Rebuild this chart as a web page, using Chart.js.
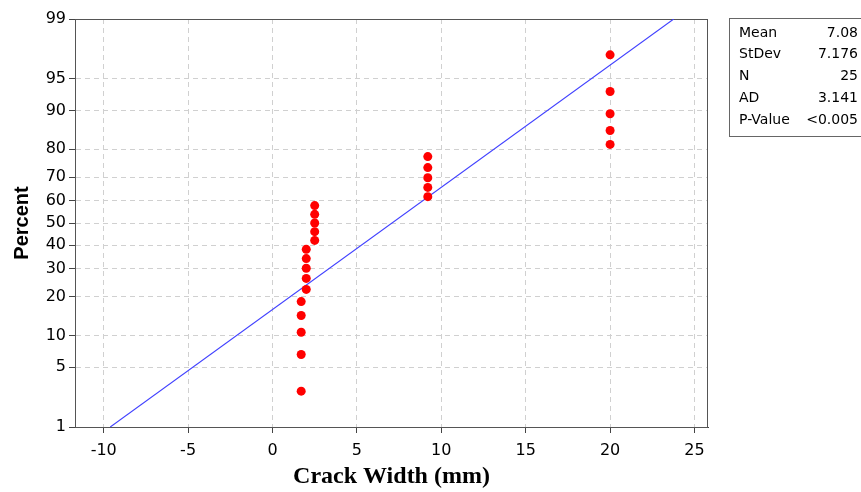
<!DOCTYPE html>
<html>
<head>
<meta charset="utf-8">
<script src="https://cdn.jsdelivr.net/npm/chart.js@4/dist/chart.umd.min.js"></script>
<style>
  html, body { margin: 0; padding: 0; background: #fff; }
  #wrap { width: 861px; height: 492px; }
</style>
</head>
<body>
<div id="wrap"><canvas id="chart"></canvas></div>
<script>
// data
const crackWidth = [1.7, 1.7, 1.7, 1.7, 1.7, 2.0, 2.0, 2.0, 2.0, 2.0, 2.5, 2.5, 2.5, 2.5, 2.5,
  9.2, 9.2, 9.2, 9.2, 9.2, 20, 20, 20, 20, 20];
const percent = [2.76, 6.69, 10.63, 14.57, 18.50, 22.44, 26.38, 30.31, 34.25, 38.19,
  42.13, 46.06, 50.00, 53.94, 57.87, 61.81, 65.75, 69.69, 73.62, 77.56,
  81.50, 85.43, 89.37, 93.31, 97.24];
// fitted normal line (ends of the blue line)
const fitX = [-9.61, 23.77];
const fitP = [1, 99];

const xTicks = [-10, -5, 0, 5, 10, 15, 20, 25];
const yTicks = [1, 5, 10, 20, 30, 40, 50, 60, 70, 80, 90, 95, 99];

const statLabels = ['Mean', 'StDev', 'N', 'AD', 'P-Value'];
const statValues = ['7.08', '7.176', '25', '3.141', '<0.005'];

// inverse normal cdf (Acklam) - used by the probability axis
function qnorm(p) {
  const a = [-3.969683028665376e+01, 2.209460984245205e+02, -2.759285104469687e+02, 1.383577518672690e+02, -3.066479806614716e+01, 2.506628277459239e+00];
  const b = [-5.447609879822406e+01, 1.615858368580409e+02, -1.556989798598866e+02, 6.680131188771972e+01, -1.328068155288572e+01];
  const c = [-7.784894002430293e-03, -3.223964580411365e-01, -2.400758277161838e+00, -2.549732539343734e+00, 4.374664141464968e+00, 2.938163982698783e+00];
  const d = [7.784695709041462e-03, 3.224671290700398e-01, 2.445134137142996e+00, 3.754408661907416e+00];
  const pl = 0.02425;
  if (p < pl) {
    const q = Math.sqrt(-2 * Math.log(p));
    return (((((c[0]*q+c[1])*q+c[2])*q+c[3])*q+c[4])*q+c[5]) / ((((d[0]*q+d[1])*q+d[2])*q+d[3])*q+1);
  }
  if (p > 1 - pl) {
    const q = Math.sqrt(-2 * Math.log(1 - p));
    return -(((((c[0]*q+c[1])*q+c[2])*q+c[3])*q+c[4])*q+c[5]) / ((((d[0]*q+d[1])*q+d[2])*q+d[3])*q+1);
  }
  const q = p - 0.5, r = q * q;
  return (((((a[0]*r+a[1])*r+a[2])*r+a[3])*r+a[4])*r+a[5])*q / (((((b[0]*r+b[1])*r+b[2])*r+b[3])*r+b[4])*r+1);
}

// normal probability scale (percent)
class ProbitScale extends Chart.LinearScale {
  determineDataLimits() {
    this.min = this.options.min;
    this.max = this.options.max;
  }
  buildTicks() {
    return yTicks.map(v => ({ value: v }));
  }
  getPixelForValue(v) {
    const z0 = qnorm(this.min / 100), z1 = qnorm(this.max / 100);
    return this.getPixelForDecimal((qnorm(v / 100) - z0) / (z1 - z0));
  }
  getValueForPixel(px) {
    let lo = this.min, hi = this.max;
    for (let i = 0; i < 40; i++) {
      const mid = (lo + hi) / 2;
      const pm = this.getPixelForValue(mid);
      if ((pm > px) === !this.isHorizontal()) lo = mid; else hi = mid;
    }
    return (lo + hi) / 2;
  }
}
ProbitScale.id = 'probit';
ProbitScale.defaults = Chart.LinearScale.defaults;
Chart.register(ProbitScale);

const frame = {
  id: 'frame',
  beforeDatasetsDraw(chart) {
    const { ctx, chartArea: a } = chart;
    ctx.save();
    ctx.strokeStyle = '#555';
    ctx.lineWidth = 1;
    ctx.strokeRect(Math.round(a.left) + 0.5, Math.round(a.top) + 0.5,
      Math.round(a.right - a.left) - 1, Math.round(a.bottom - a.top));
    ctx.restore();
  }
};

const statsBox = {
  id: 'statsBox',
  afterDraw(chart) {
    const { ctx, chartArea: a } = chart;
    const left = Math.round(a.right) + 21;
    const top = 18;
    ctx.save();
    ctx.strokeStyle = '#666';
    ctx.lineWidth = 1;
    ctx.strokeRect(left + 0.5, top + 0.5, 200, 118);
    ctx.fillStyle = '#000';
    ctx.font = '14px "DejaVu Sans"';
    ctx.textBaseline = 'middle';
    statLabels.forEach((lab, i) => {
      const y = top + 15 + i * 21.8;
      ctx.textAlign = 'left';
      ctx.fillText(lab, left + 10, y);
      ctx.textAlign = 'right';
      ctx.fillText(statValues[i], 858, y);
    });
    ctx.restore();
  }
};

const tickFont = { family: 'DejaVu Sans', size: 16 };
const gridOpts = { color: '#d0d0d0', tickColor: '#444', tickLength: 6, tickBorderDash: [] };
const borderOpts = { display: true, color: '#444', width: 1, dash: [5, 4] };

new Chart(document.getElementById('chart'), {
  type: 'scatter',
  data: {
    datasets: [
      {
        data: crackWidth.map((x, i) => ({ x: x, y: percent[i] })),
        backgroundColor: '#ff0000',
        borderWidth: 0,
        pointRadius: 4.5
      },
      {
        data: fitX.map((x, i) => ({ x: x, y: fitP[i] })),
        showLine: true,
        borderColor: '#4040ff',
        borderWidth: 1.1,
        pointRadius: 0
      }
    ]
  },
  options: {
    responsive: true,
    maintainAspectRatio: false,
    animation: false,
    events: [],
    layout: { padding: { top: 19, right: 153, bottom: 0, left: 0 } },
    plugins: { legend: { display: false }, tooltip: { enabled: false } },
    scales: {
      x: {
        type: 'linear',
        min: -11.7,
        max: 25.8,
        afterBuildTicks: s => { s.ticks = xTicks.map(v => ({ value: v })); },
        afterFit: s => { s.height = 65; },
        ticks: { autoSkip: false, maxRotation: 0, color: '#000', font: tickFont, padding: 8 },
        grid: gridOpts,
        border: borderOpts,
        title: {
          display: true, text: 'Crack Width (mm)', color: '#000',
          font: { family: 'Liberation Serif', size: 24, weight: 'bold' },
          padding: { top: 0, bottom: 1 }
        }
      },
      y: {
        type: 'probit',
        position: 'left',
        min: 1,
        max: 99,
        afterFit: s => { s.width = 75; },
        ticks: { color: '#000', font: tickFont, padding: 3, callback: v => String(v) },
        grid: gridOpts,
        border: borderOpts,
        title: {
          display: true, text: 'Percent', color: '#000',
          font: { family: 'Liberation Sans', size: 20, weight: 'bold' },
          padding: { top: 10, bottom: 0 }
        }
      }
    }
  },
  plugins: [frame, statsBox]
});
</script>
</body>
</html>
